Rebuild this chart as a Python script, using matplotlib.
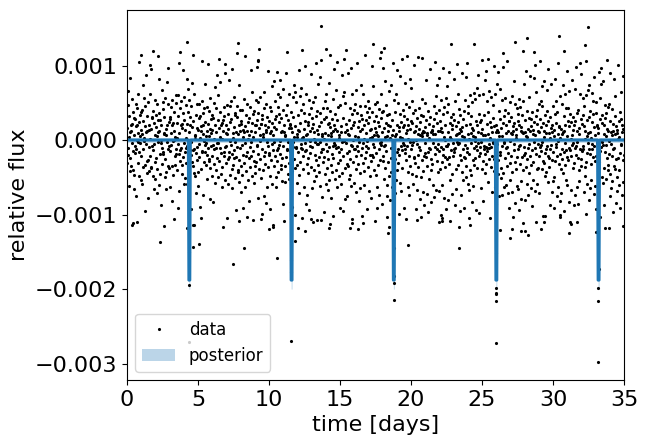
import numpy as np
import matplotlib
matplotlib.use("Agg")
import matplotlib.pyplot as plt

# ---- data: regularly sampled flux values, in units of 1.3e-5 ----
flux_rows = [
    [12,-24,36,-8,51,-15,3,-47,25,8,-19,64,-32,9,-27,16,-3,42,-88,17,-11,29,-31,5,-36],
    [23,-51,-13,22,-6,37,-9,14,-58,0,15,33,-2,7,48,-24,19,-37,81,-12,-3,26,4,-41,10],
    [-17,29,6,-45,31,-9,57,-28,20,-1,2,43,-26,14,-73,35,-4,8,67,-22,25,-34,9,-21,39],
    [-60,15,-32,10,-7,48,-16,1,-29,73,-28,11,23,-6,24,-37,92,-10,30,-4,18,-51,41,-23,5],
    [-40,13,26,-19,4,-55,37,-30,8,21,-2,9,-46,28,63,-14,21,-35,0,-3,-67,16,52,-25,-8],
    [39,-14,32,-12,7,-89,6,24,-38,43,-20,5,-33,11,-51,16,-2,60,-27,37,-9,74,-6,19,-29],
    [24,-11,-48,22,7,-5,34,-63,16,-27,41,-1,18,-36,9,-82,29,0,-17,3,-26,38,-9,46,-14],
    [18,-31,2,-4,25,-70,46,-14,7,-53,33,91,-22,-10,15,40,-8,-35,17,-26,12,72,-18,28,-3],
    [-45,21,44,-12,-39,10,2,-24,36,-8,63,-6,17,-45,29,-6,53,-19,8,41,-32,16,-10,24,-71],
    [35,-15,-2,59,-23,13,-27,88,-10,20,-9,47,-34,1,5,-37,4,-13,26,-55,12,-21,37,-7,-33],
    [10,-47,23,-18,37,-4,-69,25,2,-30,14,-80,9,-11,40,-12,6,28,-57,15,-23,-1,33,-5,19],
    [-12,58,-26,4,-3,34,-15,9,-40,17,78,-8,-22,30,-20,4,-61,11,43,-29,7,-6,22,-16,26],
    [-37,10,-5,-64,23,38,-25,1,-9,-44,16,55,-31,-8,8,33,-19,67,-3,21,-3,46,-38,12,84],
    [-22,-8,29,3,60,-35,-13,16,-49,18,-28,1,-90,9,21,-17,34,-12,25,-7,69,-41,15,-24,7],
    [-6,-81,36,6,-20,11,-45,27,-18,62,-12,19,-36,35,-1,40,-5,22,-30,73,-14,-50,2,7,-26],
    [44,-19,13,-10,26,-39,28,-2,-72,8,-18,35,-7,24,90,-33,6,-31,57,-21,16,-43,9,-8,31],
    [-27,20,-54,17,-5,31,-36,-15,3,-70,10,42,-24,8,-48,14,-3,87,-17,26,-32,9,-12,-79,37],
    [1,-41,19,-19,23,-63,5,-7,34,-28,72,-2,9,-16,50,-37,18,-83,27,3,-11,-44,30,-22,15],
    [-34,8,-27,41,16,-23,75,-6,21,-5,39,-60,28,-14,94,-30,12,-1,44,-20,5,17,-39,17,-9],
    [22,-76,26,-31,6,3,-58,33,-17,50,-12,15,-25,8,-65,10,37,-2,-49,24,71,-28,-6,13,-15],
    [20,-13,34,-37,7,-71,30,9,-21,-4,56,-45,18,-88,5,-10,61,-27,13,-2,40,22,-16,-38,25],
    [-48,11,-22,70,-10,34,-8,47,-33,19,-5,27,62,-14,-1,44,-26,23,-30,8,-42,9,-19,53,-66],
    [31,-6,8,-84,15,-27,5,-43,4,69,-18,26,-10,36,-9,91,-35,-2,21,47,-24,12,-40,15,-11],
    [17,-53,12,-15,29,-69,8,-32,44,-7,24,-2,57,-20,3,-77,14,50,-29,-7,39,-8,6,-26,3],
    [-44,10,-12,26,-36,9,72,-55,18,-23,45,-4,31,-8,54,-9,2,-81,37,-17,3,-30,11,-49,28],
    [-3,76,-11,20,-66,5,-10,48,-25,6,-57,19,-34,15,-19,41,-72,27,-6,9,-13,-1,33,-28,68],
    [-50,23,-7,12,-85,17,39,-31,1,-42,8,-15,44,-2,25,-21,79,-37,10,-4,30,-4,58,-26,6],
    [-18,14,-33,65,-2,28,-47,19,-12,83,-9,4,-59,6,-23,33,-9,-74,22,1,-18,40,-35,7,-45],
    [24,-4,48,-11,33,-29,5,-52,17,-20,18,-41,59,-7,30,-87,13,4,-26,-60,7,-14,22,-33,9],
    [-19,42,-6,16,-3,73,-40,27,-5,11,52,-31,-8,9,-48,21,81,-24,-7,34,-12,5,-37,2,-70],
    [36,-21,14,-45,8,-9,-34,67,-2,23,-16,45,-73,0,-1,50,-29,8,-61,38,-3,17,93,-25,-13],
    [10,-58,6,-27,69,-40,21,-11,5,-36,33,-20,12,-47,74,-5,27,-6,48,-82,16,-23,0,-9,31],
    [-44,19,-9,37,4,-30,52,-17,-54,28,-6,79,-11,13,-25,3,-63,20,-2,35,-34,9,-50,26,-15],
    [57,-8,22,-78,11,47,-24,-3,1,-46,15,-32,88,-19,35,-6,7,-12,21,-71,29,-1,18,40,-28],
    [-8,33,-53,24,-15,2,-37,10,-60,11,-22,76,-15,3,29,-18,56,-4,20,-31,5,-7,-84,37,12],
    [-36,8,-13,25,-48,5,39,-70,19,-26,4,-9,32,-57,14,-3,85,-21,-2,47,-5,23,-66,8,29],
    [-17,30,-22,74,-40,12,-6,3,-29,61,-5,18,-11,36,-58,26,4,-46,9,-23,15,-37,51,-90,27],
    [2,-62,14,-19,-33,57,-8,21,-49,5,-14,80,-27,10,-8,41,-4,29,-55,4,-20,6,-41,48,-12],
    [72,-31,16,-9,38,-24,9,-76,13,-15,27,-44,3,66,-6,19,-53,2,-10,84,-29,13,-3,31,-5],
    [16,-70,25,-13,59,-9,7,-21,37,-82,22,-6,10,-33,15,-48,1,-16,34,-57,11,-27,63,-2,20],
    [-9,54,-35,18,-5,40,-2,28,-45,77,-19,8,-18,31,-24,9,-71,14,-37,0,-4,23,-52,6,-15],
    [86,-28,11,-7,33,-61,19,-10,5,-38,26,-79,4,42,-21,7,-32,9,-54,25,-16,8,-67,13,-3],
    [38,-13,62,-18,21,-56,5,-27,7,-74,30,-12,2,-40,17,-8,73,-9,24,-31,8,-20,-64,9,10],
    [-25,6,-46,14,-3,35,-59,22,-14,81,-7,6,-52,28,45,-22,-9,18,57,-33,9,-4,31,-11,64],
    [-53,20,-30,9,-7,-77,41,12,-23,8,-46,27,-15,74,-9,3,-60,34,-18,0,-28,15,-71,43,-6],
    [29,-6,56,-20,8,-62,37,-4,-18,70,-25,18,-41,3,-84,24,-10,1,-35,11,-56,16,-17,27,-3],
    [63,-12,-9,21,-67,40,-8,5,-30,14,-51,6,-2,78,-4,19,-26,47,-3,7,32,-15,-73,26,11],
    [-21,9,-57,4,-33,13,69,-41,22,-9,3,-70,30,-18,41,-5,-19,65,-27,16,-38,80,-12,-8,35],
    [6,-45,28,-14,1,-52,17,-31,46,-88,25,-3,7,-36,12,-64,39,-21,4,-47,10,-26,49,-8,-1],
    [42,-19,3,-72,20,-6,54,-10,15,-29,67,-3,8,-16,46,-75,27,-7,19,-13,21,-50,7,-2,83],
    [-30,11,-63,5,-22,48,-9,-6,26,-14,62,-34,5,-7,71,-25,17,-8,40,-11,29,-43,6,-20,-4],
    [51,-8,19,-81,2,-7,44,-28,13,-17,8,-54,36,-3,23,-2,76,-20,14,-32,47,-12,-49,8,-66],
    [15,-26,58,-4,10,-35,70,-21,8,-58,4,30,-12,22,-15,53,-39,12,-29,4,-6,41,-57,18,-34],
    [75,-48,25,-3,-2,43,-19,31,-8,7,-46,16,-27,82,-7,9,-55,28,-13,20,-70,20,-1,39,-24],
    [-41,7,-16,24,-54,6,45,-33,14,-79,9,-10,61,-4,18,-23,37,-65,11,5,-30,2,-47,33,-18],
    [20,-9,-51,27,-6,16,-72,42,-5,34,-25,9,-42,13,-61,26,-18,8,-31,7,-86,40,-15,58,-7],
    [21,-62,8,-13,71,-28,4,-45,3,-20,30,-57,11,-8,44,-4,23,-34,66,-16,9,-50,14,-26,22],
    [-10,29,-68,6,-23,10,-41,64,-2,19,-53,5,77,-8,25,-14,50,-30,17,-45,31,-4,9,-29,8],
    [-55,37,-17,82,-7,22,-11,40,-5,13,-30,56,-2,35,-22,18,-78,3,-24,9,61,-37,26,-13,7],
    [-33,15,-9,30,-6,52,-43,20,-16,73,-19,7,-28,2,-67,24,-9,58,-5,12,-21,8,-54,16,-42],
    [35,-12,10,-38,4,-70,27,-22,63,-4,18,-7,40,-58,29,-16,79,-1,6,-48,14,-25,13,-63,2],
    [-14,45,-30,11,-55,6,-20,37,-9,8,-34,57,-12,25,-73,9,-3,47,-26,15,-10,33,-41,71,-18],
    [4,-46,20,-21,33,-64,14,-8,51,-10,27,-85,1,-17,19,-52,5,-5,62,-29,10,-3,24,-67,15],
    [-24,53,-8,-57,20,-6,75,-15,28,-48,9,-2,-66,31,-19,6,-42,12,-31,48,-9,80,-20,22,-27],
    [68,-10,17,-11,43,-9,26,-6,35,-54,14,-28,1,-37,9,-23,46,-76,21,-13,4,-45,7,52,-3],
    [-62,24,-9,57,-14,30,-50,8,-25,2,-41,19,-9,49,-4,27,-18,40,-56,13,-6,65,-22,5,-47],
    [39,-17,28,-71,16,-3,14,-32,12,-60,7,-23,70,-6,22,-11,43,-79,0,-7,58,-38,18,-2,26],
    [-5,61,-44,15,-29,6,-67,23,-12,36,-5,4,28,-40,83,-19,11,-31,34,-26,9,-14,-1,37,-58],
    [20,-35,69,-4,8,-50,32,-16,5,-42,17,-74,9,-9,-27,63,-8,6,45,-30,25,-65,14,-20,7],
    [-38,10,-53,1,-19,77,-31,3,-46,20,-13,29,-70,22,-4,50,-5,16,-57,8,-21,66,-43,11,-15],
]

# individual outlying points: time [days], flux [1e-5]
outlier_t = [0.99, 2.18, 1.62, 3.66, 4.23, 5.28, 6.90, 7.82, 9.22, 9.24, 12.32, 13.66,
             14.01, 14.30, 15.28, 17.32, 17.89, 18.10, 19.72, 20.77, 22.82, 24.44, 25.42,
             26.48, 27.32, 27.89, 28.17, 28.66, 30.42, 30.77, 32.25, 32.46, 32.32, 33.38,
             0.42, 0.70, 2.32, 4.23, 4.68, 4.72, 4.65, 5.07, 7.46, 7.89, 8.24, 9.44, 10.00,
             10.28, 10.56, 11.83, 12.04, 12.53, 12.96, 13.38, 13.68, 14.23, 14.50, 15.70,
             15.85, 16.27, 16.62, 18.31, 18.38, 19.79, 20.42, 22.00, 22.15, 22.20, 23.38,
             23.40, 24.08, 26.27, 26.97, 27.11, 27.75, 28.00, 28.24, 28.80, 29.15, 29.37,
             29.44, 30.50, 30.52, 31.13, 31.27, 31.69, 33.03, 33.66, 33.94, 34.93]
outlier_f = [114, 113, 101, 103, 131, 106, 102, 130, 106, 108, 121, 153,
             122, 114, 109, 129, 118, 123, 113, 110, 129, 129, 109,
             117, 131, 119, 137, 118, 140, 119, 127, 152, 106, 97,
             -111, -110, -137, -118, -114, -114, -144, -140, -166, -109, -145, -106, -119,
             -117, -158, -136, -118, -122, -106, -107, -107, -118, -102, -118,
             -111, -119, -111, -103, -125, -141, -107, -110, -105, -109, -117,
             -145, -105, -121, -131, -119, -122, -122, -127, -110, -119, -110,
             -102, -103, -101, -125, -113, -110, -123, -118, -118, -115]

# in-transit points: time [days], flux [1e-5]
transit_pt_t = [4.37, 4.39, 4.38, 11.55, 11.57, 11.58, 18.77, 18.78, 18.79, 18.80,
                26.00, 26.01, 25.99, 26.00, 25.98, 26.00, 33.21, 33.19, 33.20, 33.19]
transit_pt_f = [-195, -271, -150, -161, -177, -270, -182, -145, -192, -215,
                -152, -199, -205, -207, -216, -272, -173, -199, -216, -298]

# posterior model (time [days], flux [1e-5]) with band edges
model_t = [0.0,
           4.32, 4.36, 4.42, 4.46,
           11.52, 11.56, 11.62, 11.66,
           18.72, 18.76, 18.82, 18.86,
           25.94, 25.98, 26.04, 26.08,
           33.14, 33.18, 33.24, 33.28,
           35.0]
model_f = [0,
           0, -188, -188, 0,
           0, -188, -188, 0,
           0, -188, -188, 0,
           0, -188, -188, 0,
           0, -188, -188, 0,
           0]
band_lo = [-3,
           -3, -200, -200, -3,
           -3, -200, -200, -3,
           -3, -200, -200, -3,
           -3, -200, -200, -3,
           -3, -200, -200, -3,
           -3]
band_hi = [3,
           3, -176, -176, 3,
           3, -176, -176, 3,
           3, -176, -176, 3,
           3, -176, -176, 3,
           3, -176, -176, 3,
           3]

grid_unit = 1.3e-5
scale = 1e-5
flux = np.concatenate([np.array(r, dtype=float) for r in flux_rows]) * grid_unit
t = np.linspace(0, 35, len(flux), endpoint=False)

t_all = np.concatenate([t, outlier_t, transit_pt_t])
f_all = np.concatenate([flux, np.array(outlier_f) * scale, np.array(transit_pt_f) * scale])

plt.rcParams["font.family"] = "DejaVu Sans"
fig = plt.figure(figsize=(6.47, 4.44), dpi=100)
ax = fig.add_axes([127 / 647, 1 - 380 / 444, (624 - 127) / 647, (380 - 10) / 444])

ax.plot(t_all, f_all, ".k", ms=2.5, label="data")
ax.plot(model_t, np.array(model_f) * scale, color="C0", lw=2.2)
ax.fill_between(model_t, np.array(band_lo) * scale, np.array(band_hi) * scale,
                color="C0", alpha=0.3, lw=0, label="posterior")

ax.set_xlim(0, 35)
ax.set_ylim(-0.003221, 0.001745)
ax.set_yticks([-0.003, -0.002, -0.001, 0.0, 0.001])
ax.set_yticklabels(["\u22120.003", "\u22120.002", "\u22120.001", "0.000", "0.001"])
ax.set_xticks([0, 5, 10, 15, 20, 25, 30, 35])
ax.tick_params(labelsize=16)
ax.set_xlabel("time [days]", fontsize=16)
ax.set_ylabel("relative flux", fontsize=16)
ax.legend(fontsize=12, loc="lower left")

fig.savefig("out.png", dpi=100)
